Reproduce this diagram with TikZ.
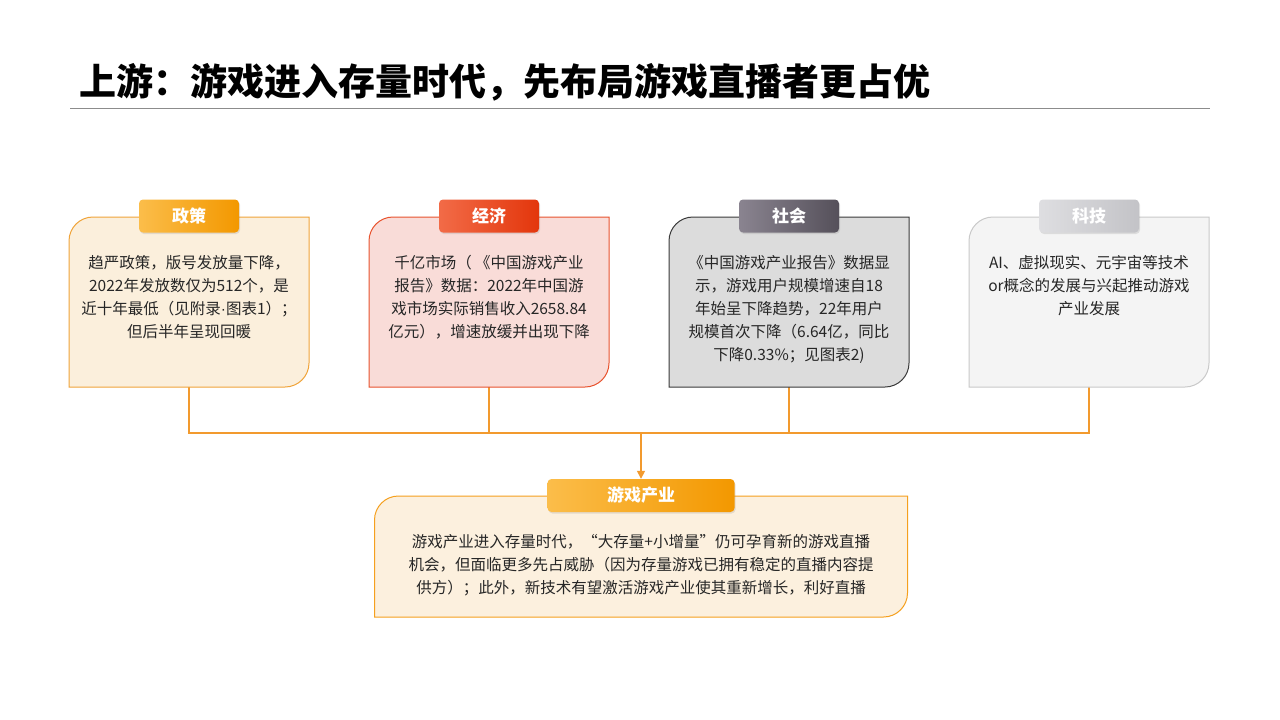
\documentclass[tikz,border=0pt]{standalone}
\usepackage{fontspec}
\setmainfont{Noto Sans CJK SC}
\newfontfamily\titlefont{Noto Sans CJK SC}[UprightFont={* Black}]
\newfontfamily\latinfont{Liberation Sans}
\usetikzlibrary{shadows,calc,arrows.meta}
\definecolor{txt}{HTML}{262626}
\definecolor{lineor}{HTML}{F29A2E}
\definecolor{f1}{HTML}{FBEFDC}\definecolor{d1}{HTML}{F0A43A}
\definecolor{f2}{HTML}{F9DCD8}\definecolor{d2}{HTML}{E8532E}
\definecolor{f3}{HTML}{DCDCDC}\definecolor{d3}{HTML}{3A3A3A}
\definecolor{f4}{HTML}{F4F4F4}\definecolor{d4}{HTML}{C9C9C9}
\definecolor{f5}{HTML}{FCF0DE}\definecolor{d5}{HTML}{F5A01E}
\definecolor{oL}{HTML}{FBBD4A}\definecolor{oR}{HTML}{F39800}
\definecolor{rL}{HTML}{F26B47}\definecolor{rR}{HTML}{E3360C}
\definecolor{gL}{HTML}{8A8490}\definecolor{gR}{HTML}{55505A}
\definecolor{lL}{HTML}{DEDEE1}\definecolor{lR}{HTML}{C3C3C7}
\newcommand\cutbox[3]{%
  \draw[fill=#2, draw=#3, line width=1pt]
    ($(#1.north west)+(0,24)$) arc(180:270:24) -- (#1.north east)
    -- ($(#1.south east)+(0,-24)$) arc(0:90:24) -- (#1.south west) -- cycle;}
\tikzset{
  area/.style={minimum width=240pt, minimum height=170pt, inner sep=0pt, outer sep=0pt},
  tab/.style={rounded corners=4pt, minimum width=100pt, minimum height=33pt, inner sep=0pt,
    text=white, font=\fontsize{17}{20}\selectfont\bfseries,
    drop shadow={opacity=0.2, shadow xshift=1pt, shadow yshift=-1.5pt}},
  body/.style={align=center, font=\fontsize{15.5}{23}\selectfont, text=txt, inner sep=0pt, anchor=north},
  conn/.style={draw=lineor, line width=1.4pt},
}
\begin{document}
\begin{tikzpicture}[x=1pt,y=-1pt]
\useasboundingbox[fill=white] (0,0) rectangle (1280,720);
% title
\node[anchor=west, inner sep=0pt, font=\titlefont\fontsize{37}{40}\selectfont] (title) at (79,82)
  {上游：游戏进入存量时代，先布局游戏直播者更占优};
\draw[draw=gray!90, line width=0.8pt] (70,108) -- (1210,108);
% box areas
\node[area] (b1) at (189,302) {};
\node[area] (b2) at (489,302) {};
\node[area] (b3) at (789,302) {};
\node[area] (b4) at (1089,302) {};
\node[area, minimum width=533pt, minimum height=121pt] (b5) at (641,556.5) {};
\coordinate (j) at (641,433);
% connectors
\draw[conn] (b1.south) -- (b1.south |- j) -- (b4.south |- j) -- (b4.south);
\draw[conn] (b2.south) -- (b2.south |- j);
\draw[conn] (b3.south) -- (b3.south |- j);
\cutbox{b1}{f1}{d1}
\cutbox{b2}{f2}{d2}
\cutbox{b3}{f3}{d3}
\cutbox{b4}{f4}{d4}
\cutbox{b5}{f5}{d5}
% tabs
\node[tab, left color=oL, right color=oR] (t1) at (189,216) {政策};
\node[tab, left color=rL, right color=rR] (t2) at (489,216) {经济};
\node[tab, left color=gL, right color=gR] (t3) at (789,216) {社会};
\node[tab, left color=lL, right color=lR] (t4) at (1089,216) {科技};
\node[tab, left color=oL, right color=oR, minimum width=187pt] (t5) at (641,495.5) {游戏产业};
\draw[conn, -{Triangle[width=8pt,length=8pt]}] (j) -- (t5.north);
% texts
\node[body] (x1) at (189,255) {趋严政策，版号发放量下降，\\2022年发放数仅为512个，是\\近十年最低（见附录{\latinfont ·}图表1）；\\但后半年呈现回暖};
\node[body] (x2) at (489,255) {千亿市场（ 《中国游戏产业\\报告》数据：2022年中国游\\戏市场实际销售收入2658.84\\亿元），增速放缓并出现下降};
\node[body] (x3) at (789,255) {《中国游戏产业报告》数据显\\示，游戏用户规模增速自18\\年始呈下降趋势，22年用户\\规模首次下降（6.64亿，同比\\下降0.33\%；见图表2)};
\node[body] (x4) at (1089,255) {AI、虚拟现实、元宇宙等技术\\or概念的发展与兴起推动游戏\\产业发展};
\node[body] (x5) at (641,534) {游戏产业进入存量时代，“大存量+小增量”仍可孕育新的游戏直播\\机会，但面临更多先占威胁（因为存量游戏已拥有稳定的直播内容提\\供方）；此外，新技术有望激活游戏产业使其重新增长，利好直播};
\end{tikzpicture}
\end{document}
